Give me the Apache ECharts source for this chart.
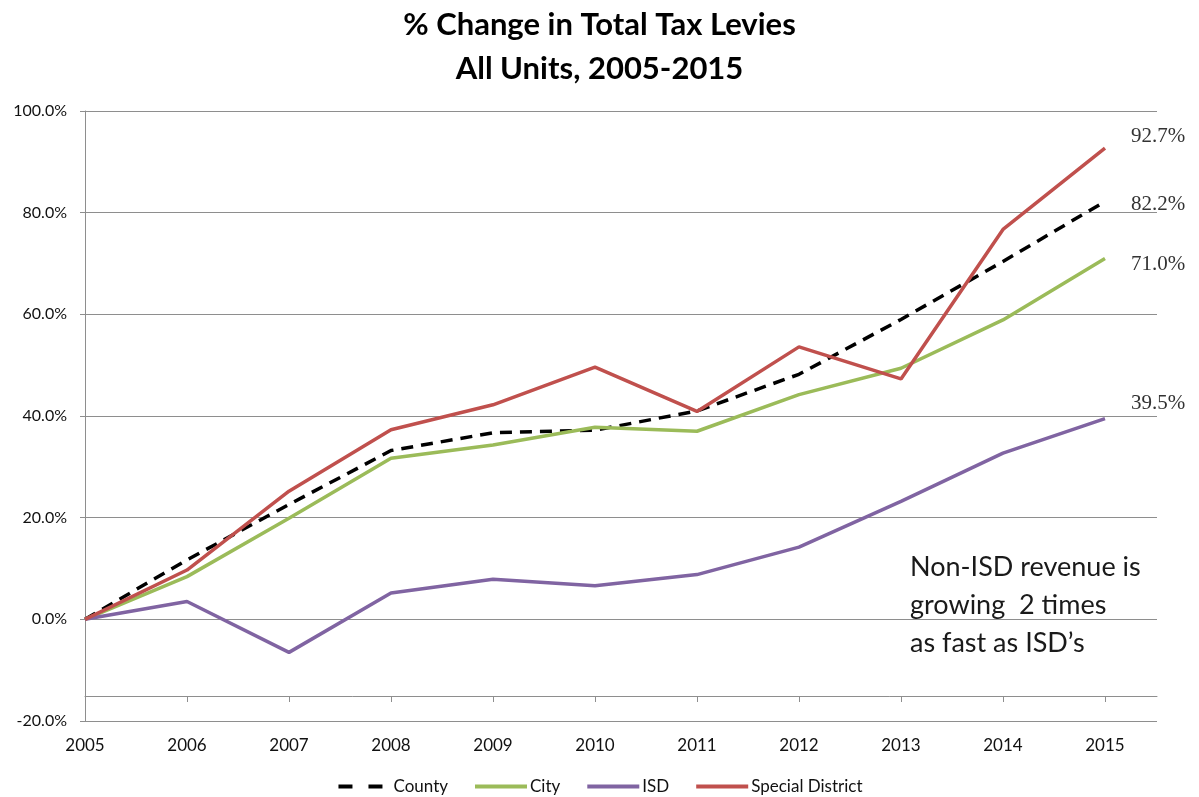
<!DOCTYPE html>
<html>
<head>
<meta charset="utf-8">
<script src="https://cdn.jsdelivr.net/npm/echarts@6/dist/echarts.min.js"></script>
<style>html,body{margin:0;padding:0;background:#fff;}#c{width:1199px;height:797px;}</style>
</head>
<body>
<div id="c"></div>
<script>
const years = [2005, 2006, 2007, 2008, 2009, 2010, 2011, 2012, 2013, 2014, 2015];
const county  = [0, 11.7, 22.6, 33.2, 36.7, 37.2, 41.0, 48.2, 59.0, 70.4, 82.2];
const city    = [0, 8.4, 19.9, 31.7, 34.3, 37.8, 37.0, 44.2, 49.4, 58.9, 71.0];
const isd     = [0, 3.5, -6.5, 5.2, 7.9, 6.6, 8.8, 14.2, 23.2, 32.7, 39.5];
const special = [0, 9.7, 25.2, 37.3, 42.2, 49.6, 40.9, 53.6, 47.3, 76.7, 92.7];
const yTicks = [-20, 0, 20, 40, 60, 80, 100];
const seriesNames = ['County', 'City', 'ISD', 'Special District'];
const note = ['Non-ISD revenue is', 'growing  2 times', 'as fast as ISD\u2019s'];

const chart = echarts.init(document.getElementById('c'), null, {renderer: 'canvas'});

function pts(vals) {
  return vals.map((v, i) => [years[i], v]);
}
function endLbl(offset) {
  return {
    show: true, distance: 26, offset: offset,
    formatter: p => p.value[1].toFixed(1) + '%',
    fontFamily: 'Liberation Serif', fontSize: 21, color: '#333'
  };
}

const gray = '#8e8e8e';
const option = {
  animation: false,
  backgroundColor: '#fff',
  title: {
    text: '% Change in Total Tax Levies\nAll Units, 2005-2015',
    left: 'center', top: -2,
    textStyle: {fontFamily: 'Lato', fontWeight: 'bold', fontSize: 31, lineHeight: 44, color: '#000'}
  },
  legend: {
    data: seriesNames.map(n => n === 'County' ? {name: n, lineStyle: {type: [14, 16]}} : {name: n}),
    left: 'center', top: 773,
    itemWidth: 52, itemHeight: 4, itemGap: 25,
    itemStyle: {opacity: 0},
    lineStyle: {width: 4},
    textStyle: {fontFamily: 'Lato', fontSize: 17, color: '#111', padding: [0, 0, 0, -2]}
  },
  grid: {left: 85, right: 42, top: 111, bottom: 76, containLabel: false},
  xAxis: {
    type: 'value', min: 2005, max: 2015.51, interval: 1,
    offset: -25,
    axisLine: {show: true, onZero: false, lineStyle: {color: gray, width: 1}},
    axisTick: {show: true, length: 6, customValues: years, lineStyle: {color: gray}},
    axisLabel: {customValues: years, margin: 41, fontFamily: 'Lato', fontSize: 17, color: '#111', formatter: v => String(v)},
    splitLine: {show: false}
  },
  yAxis: {
    type: 'value', min: -20, max: 100, interval: 20,
    axisLine: {show: true, lineStyle: {color: gray, width: 1}},
    axisTick: {show: true, length: 5, lineStyle: {color: gray}},
    axisLabel: {margin: 18, fontFamily: 'Lato', fontSize: 16, color: '#111', formatter: v => v.toFixed(1) + '%'},
    splitLine: {show: true, lineStyle: {color: gray, width: 1}}
  },
  graphic: [{
    type: 'text', left: 910, top: 548,
    style: {text: note.join('\n'), font: '27px Lato', lineHeight: 38, fill: '#1a1a1a'}
  }],
  series: [
    {name: 'County', type: 'line', symbol: 'none', data: pts(county), endLabel: endLbl([0, 3]),
     lineStyle: {color: '#000', width: 3.5, type: [12, 8]}, itemStyle: {color: '#000'}},
    {name: 'City', type: 'line', symbol: 'none', data: pts(city), endLabel: endLbl([0, 6]),
     lineStyle: {color: '#9BBB59', width: 3.5}, itemStyle: {color: '#9BBB59'}},
    {name: 'ISD', type: 'line', symbol: 'none', data: pts(isd), endLabel: endLbl([0, -15]),
     lineStyle: {color: '#8064A2', width: 3.5}, itemStyle: {color: '#8064A2'}},
    {name: 'Special District', type: 'line', symbol: 'none', data: pts(special), endLabel: endLbl([0, -12]),
     lineStyle: {color: '#C0504D', width: 3.5}, itemStyle: {color: '#C0504D'}}
  ]
};
chart.setOption(option);
</script>
</body>
</html>
